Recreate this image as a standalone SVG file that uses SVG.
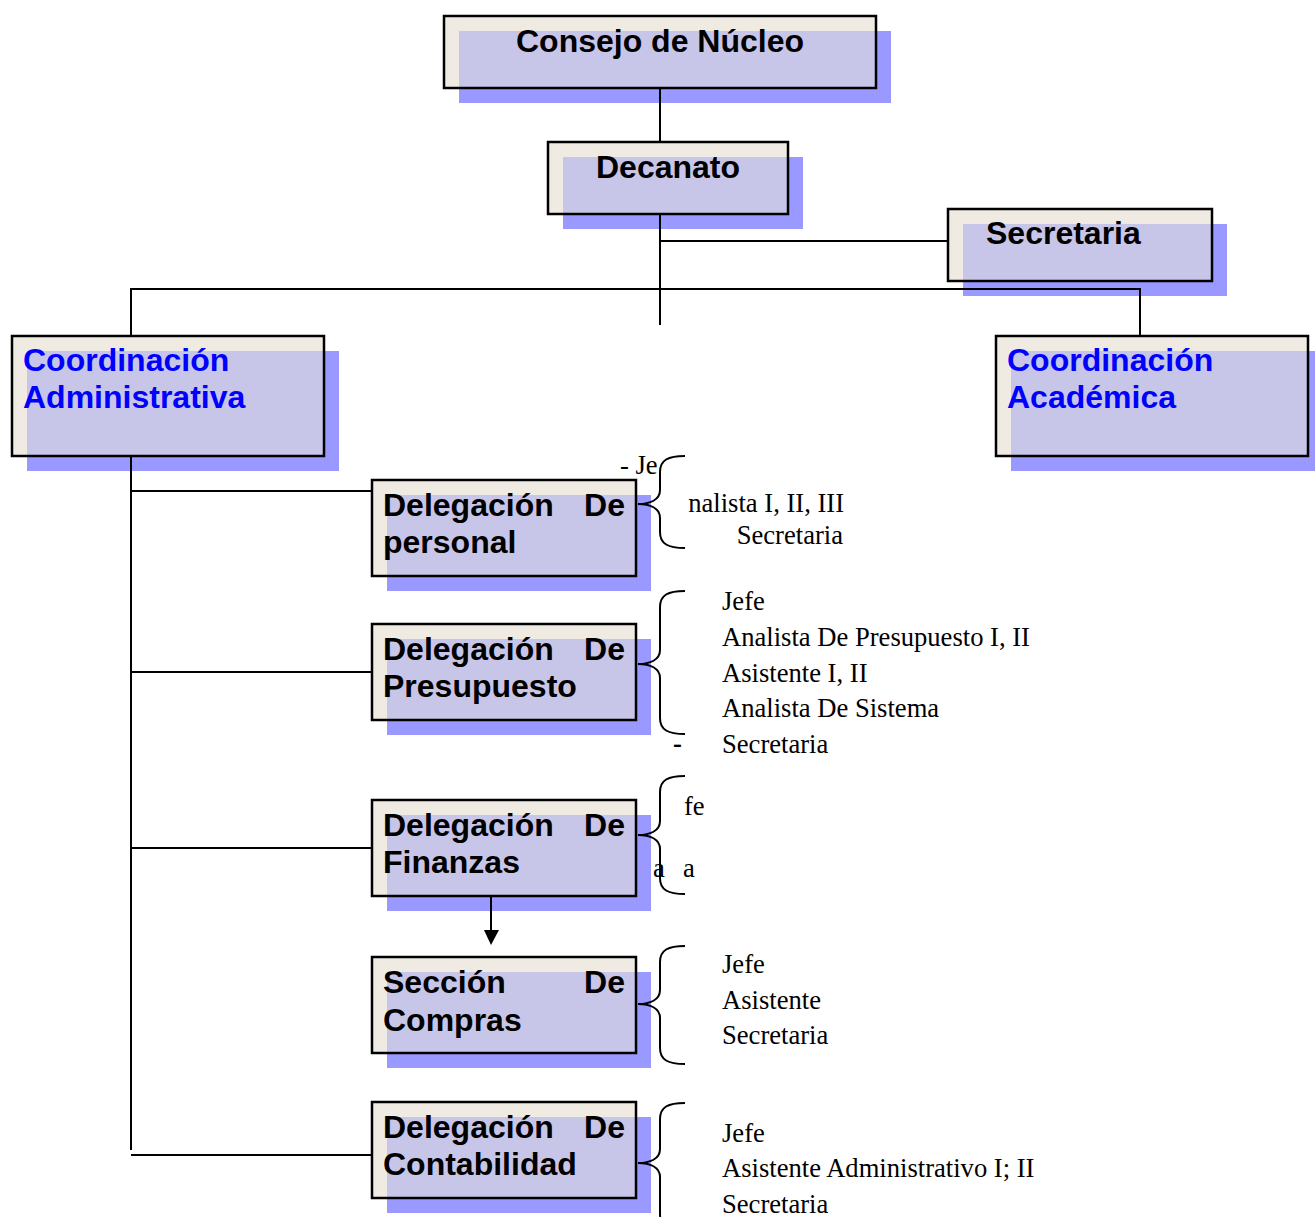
<svg xmlns="http://www.w3.org/2000/svg" width="1315" height="1217" viewBox="0 0 1315 1217">
<defs>
<style>
.sh{fill:#9999ff}
.bg{fill:#efebe3}
.lv{fill:#c8c6e8}
.bd{fill:none;stroke:#000;stroke-width:2.5}
.t{font-family:"Liberation Sans",Arial,sans-serif;font-weight:bold;font-size:32px;fill:#000}
.b{fill:#0000ff}
.s{font-family:"Liberation Serif","Times New Roman",serif;font-size:26.6px;fill:#000}
.ln{stroke:#000;stroke-width:2;fill:none}
.br{stroke:#000;stroke-width:2;fill:none}
</style>
</defs>
<rect width="1315" height="1217" fill="#fff"/>

<g id="consejo">
<rect class="sh" x="459" y="31" width="432" height="72"/>
<rect class="bg" x="444" y="16" width="432" height="72"/>
<rect class="lv" x="459" y="31" width="417" height="57"/>
<rect class="bd" x="444" y="16" width="432" height="72"/>
<text class="t" x="660" y="52" text-anchor="middle">Consejo de Núcleo</text>
</g>

<g id="decanato">
<rect class="sh" x="563" y="157" width="240" height="72"/>
<rect class="bg" x="548" y="142" width="240" height="72"/>
<rect class="lv" x="563" y="157" width="225" height="57"/>
<rect class="bd" x="548" y="142" width="240" height="72"/>
<text class="t" x="668" y="178" text-anchor="middle">Decanato</text>
</g>

<g id="secretaria">
<rect class="sh" x="963" y="224" width="264" height="72"/>
<rect class="bg" x="948" y="209" width="264" height="72"/>
<rect class="lv" x="963" y="224" width="249" height="57"/>
<rect class="bd" x="948" y="209" width="264" height="72"/>
<text class="t" x="986" y="244">Secretaria</text>
</g>

<g id="coord-adm">
<rect class="sh" x="27" y="351" width="312" height="120"/>
<rect class="bg" x="12" y="336" width="312" height="120"/>
<rect class="lv" x="27" y="351" width="297" height="105"/>
<rect class="bd" x="12" y="336" width="312" height="120"/>
<text class="t b" x="23" y="371">Coordinación</text>
<text class="t b" x="23" y="408">Administrativa</text>
</g>

<g id="coord-acad">
<rect class="sh" x="1011" y="351" width="312" height="120"/>
<rect class="bg" x="996" y="336" width="312" height="120"/>
<rect class="lv" x="1011" y="351" width="297" height="105"/>
<rect class="bd" x="996" y="336" width="312" height="120"/>
<text class="t b" x="1007" y="371">Coordinación</text>
<text class="t b" x="1007" y="408">Académica</text>
</g>

<g id="personal">
<rect class="sh" x="387" y="495" width="264" height="96"/>
<rect class="bg" x="372" y="480" width="264" height="96"/>
<rect class="lv" x="387" y="495" width="249" height="81"/>
<rect class="bd" x="372" y="480" width="264" height="96"/>
<text class="t" x="383" y="516">Delegación</text>
<text class="t" x="625" y="516" text-anchor="end">De</text>
<text class="t" x="383" y="553">personal</text>
</g>

<g id="presupuesto">
<rect class="sh" x="387" y="639" width="264" height="96"/>
<rect class="bg" x="372" y="624" width="264" height="96"/>
<rect class="lv" x="387" y="639" width="249" height="81"/>
<rect class="bd" x="372" y="624" width="264" height="96"/>
<text class="t" x="383" y="660">Delegación</text>
<text class="t" x="625" y="660" text-anchor="end">De</text>
<text class="t" x="383" y="697">Presupuesto</text>
</g>

<g id="finanzas">
<rect class="sh" x="387" y="815" width="264" height="96"/>
<rect class="bg" x="372" y="800" width="264" height="96"/>
<rect class="lv" x="387" y="815" width="249" height="81"/>
<rect class="bd" x="372" y="800" width="264" height="96"/>
<text class="t" x="383" y="836">Delegación</text>
<text class="t" x="625" y="836" text-anchor="end">De</text>
<text class="t" x="383" y="873">Finanzas</text>
</g>

<g id="compras">
<rect class="sh" x="387" y="972" width="264" height="96"/>
<rect class="bg" x="372" y="957" width="264" height="96"/>
<rect class="lv" x="387" y="972" width="249" height="81"/>
<rect class="bd" x="372" y="957" width="264" height="96"/>
<text class="t" x="383" y="993">Sección</text>
<text class="t" x="625" y="993" text-anchor="end">De</text>
<text class="t" x="383" y="1031">Compras</text>
</g>

<g id="contabilidad">
<rect class="sh" x="387" y="1117" width="264" height="96"/>
<rect class="bg" x="372" y="1102" width="264" height="96"/>
<rect class="lv" x="387" y="1117" width="249" height="81"/>
<rect class="bd" x="372" y="1102" width="264" height="96"/>
<text class="t" x="383" y="1138">Delegación</text>
<text class="t" x="625" y="1138" text-anchor="end">De</text>
<text class="t" x="383" y="1175">Contabilidad</text>
</g>

<g id="connectors">
<path class="ln" d="M660,88 V142"/>
<path class="ln" d="M660,214 V325"/>
<path class="ln" d="M660,241 H948"/>
<path class="ln" d="M131,336 V289 H1140 V336"/>
<path class="ln" d="M131,456 V1150"/>
<path class="ln" d="M131,491 H372"/>
<path class="ln" d="M131,672 H372"/>
<path class="ln" d="M131,848 H372"/>
<path class="ln" d="M131,1155 H372"/>
<path class="ln" d="M491,896 V931"/>
<polygon points="484,930 499,930 491,945" fill="#000"/>
</g>

<g id="braces">
<path class="br" d="M685,456 C668,456 660,460 660,472 L660,490 C660,500 650,504 638,504 C650,504 660,508 660,518 L660,532 C660,544 668,548 685,548"/>
<path class="br" d="M685,591 C668,591 660,595 660,607 L660,650 C660,660 650,664 638,664 C650,664 660,668 660,678 L660,718 C660,730 668,734 685,734"/>
<path class="br" d="M685,776 C668,776 660,780 660,792 L660,821 C660,831 650,835 638,835 C650,835 660,839 660,849 L660,878 C660,890 668,894 685,894"/>
<path class="br" d="M685,946 C668,946 660,950 660,962 L660,990 C660,1000 650,1004 638,1004 C650,1004 660,1008 660,1018 L660,1048 C660,1060 668,1064 685,1064"/>
<path class="br" d="M685,1103 C668,1103 660,1107 660,1119 L660,1149 C660,1159 650,1163 638,1163 C650,1163 660,1167 660,1177 L660,1214 C660,1226 668,1230 685,1230"/>
</g>

<g id="lists">
<text class="s" x="620" y="474">- Je</text>
<text class="s" x="844" y="512" text-anchor="end">nalista I, II, III</text>
<text class="s" x="843" y="544" text-anchor="end">Secretaria</text>

<text class="s" x="722" y="610">Jefe</text>
<text class="s" x="722" y="646">Analista De Presupuesto I, II</text>
<text class="s" x="722" y="682">Asistente I, II</text>
<text class="s" x="722" y="717">Analista De Sistema</text>
<text class="s" x="722" y="753">Secretaria</text>
<text class="s" x="673" y="752" font-weight="bold">-</text>

<text class="s" x="684" y="815">fe</text>
<text class="s" x="653" y="877">a</text>
<text class="s" x="683" y="877">a</text>

<text class="s" x="722" y="973">Jefe</text>
<text class="s" x="722" y="1009">Asistente</text>
<text class="s" x="722" y="1044">Secretaria</text>

<text class="s" x="722" y="1142">Jefe</text>
<text class="s" x="722" y="1177">Asistente Administrativo I; II</text>
<text class="s" x="722" y="1213">Secretaria</text>
</g>
</svg>
